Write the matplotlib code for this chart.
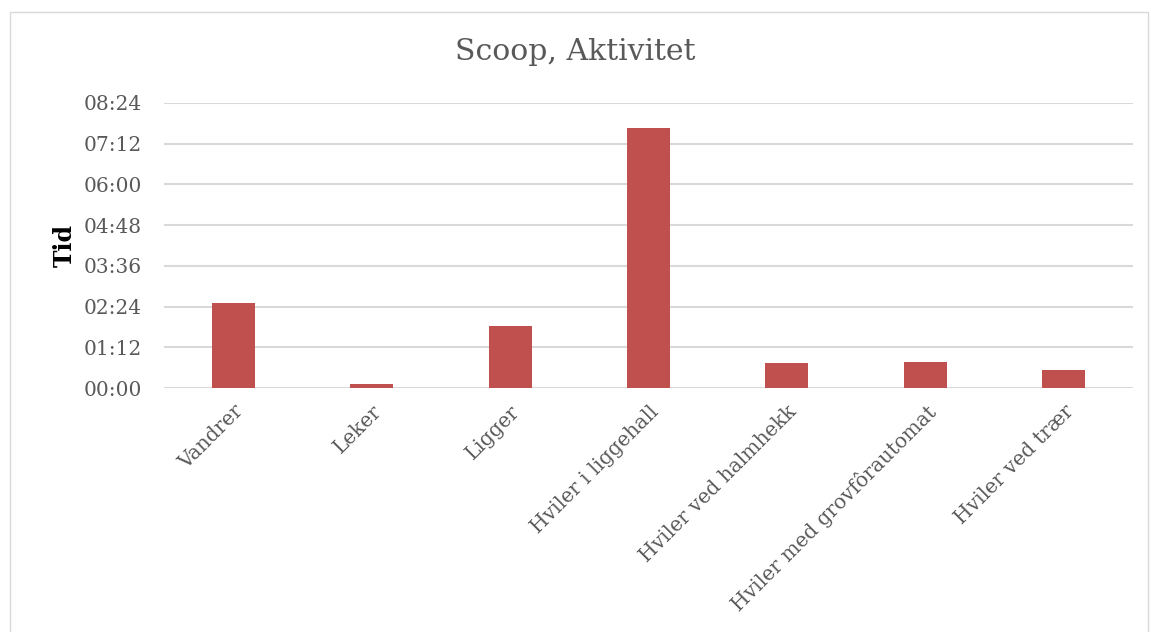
import matplotlib.pyplot as plt
from matplotlib.ticker import FuncFormatter, MultipleLocator
from matplotlib.patches import Rectangle

# aktiviteter og tid i minutter
kategorier = ["Vandrer", "Leker", "Ligger", "Hviler i liggehall",
              "Hviler ved halmhekk", "Hviler med grovfôrautomat", "Hviler ved trær"]
minutter = [150, 7, 109, 459, 45, 46, 31]

plt.rcParams['font.family'] = ['DejaVu Serif', 'Liberation Serif']
grå = "#595959"

fig = plt.figure(figsize=(11.51, 6.32), dpi=100)
fig.patches.append(Rectangle((10/1151, -0.05), 1138/1151, 1.05 - 12/632,
                             transform=fig.transFigure, fill=False,
                             edgecolor="#D9D9D9", linewidth=1))
ax = fig.add_axes([164/1151, 1 - 388/632, (1133-164)/1151, (388-103)/632])

x = range(len(kategorier))
ax.bar(x, minutter, width=0.31, color="#C0504D", zorder=3)

ax.set_xlim(-0.5, len(kategorier) - 0.5)
ax.set_ylim(0, 504)
ax.yaxis.set_major_locator(MultipleLocator(72))
ax.yaxis.set_major_formatter(FuncFormatter(lambda v, p: "%02d:%02d" % (int(v)//60, int(v) % 60)))
ax.grid(axis="y", color="#D9D9D9", linewidth=1.5, zorder=0)
for s in ax.spines.values():
    s.set_visible(False)
ax.tick_params(axis="y", length=0, labelsize=14.5, colors=grå, pad=16)
ax.tick_params(axis="x", length=0, labelsize=14.5, colors=grå, pad=10)
ax.set_xticks(list(x))
ax.set_xticklabels(kategorier, rotation=45, ha="right", rotation_mode="anchor")

ax.set_ylabel("Tid", fontsize=17, fontweight="bold", color="black", labelpad=5)
fig.text(0.5, 1 - 52/632, "Scoop, Aktivitet", ha="center", va="center", fontsize=21.5, color=grå)

fig.savefig("out.png")
